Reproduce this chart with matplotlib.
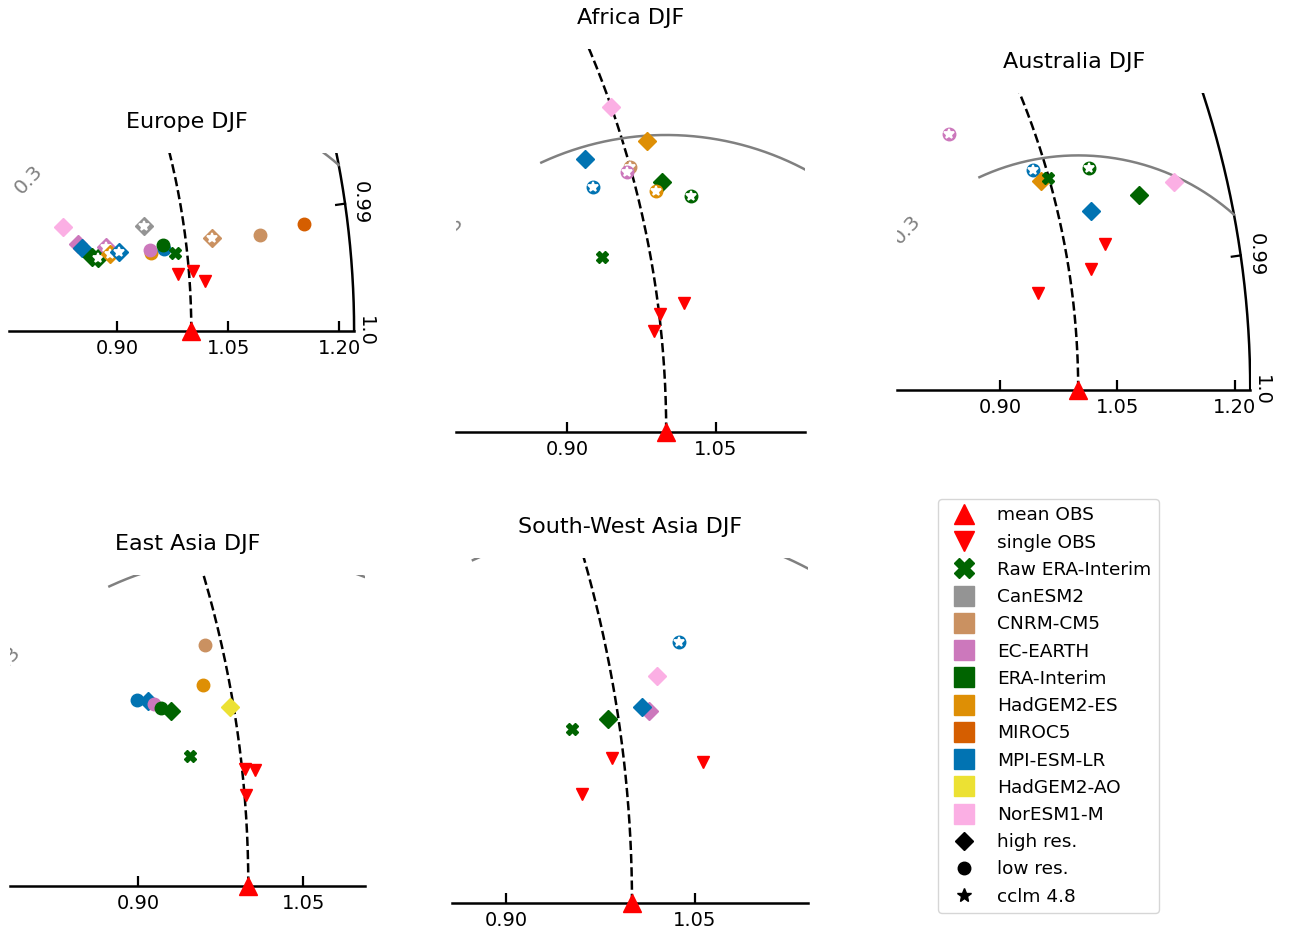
import numpy as np
import matplotlib.pyplot as plt
from matplotlib.lines import Line2D

# models and colours (legend order)
models = ['CanESM2', 'CNRM-CM5', 'EC-EARTH', 'ERA-Interim', 'HadGEM2-ES',
          'MIROC5', 'MPI-ESM-LR', 'HadGEM2-AO', 'NorESM1-M']
model_colors = ['#949494', '#ca9161', '#cc78bc', '#006400', '#de8f05',
                '#d55e00', '#0173b2', '#ece133', '#fbafe4']
color_of = dict(zip(models, model_colors))

# ---- Europe DJF (normalised std, correlation) ----
eur_model = ['NorESM1-M', 'EC-EARTH', 'MPI-ESM-LR', 'ERA-Interim', 'ERA-Interim',
             'EC-EARTH', 'HadGEM2-ES', 'MPI-ESM-LR', 'CanESM2', 'HadGEM2-ES',
             'EC-EARTH', 'MPI-ESM-LR', 'ERA-Interim', 'CNRM-CM5', 'CNRM-CM5', 'MIROC5']
eur_marker = ['D', 'D', 'D', 'D', 'D', 'D', 'D', 'D', 'D', 'o', 'o', 'o', 'o', 'D', 'o', 'o']
eur_cclm = [0, 0, 0, 0, 1, 1, 1, 1, 1, 0, 0, 0, 0, 1, 0, 0]
eur_std = [0.839, 0.855, 0.860, 0.871, 0.880, 0.892, 0.896, 0.908, 0.947, 0.951,
           0.951, 0.969, 0.969, 1.035, 1.101, 1.161]
eur_corr = [0.9858, 0.9905, 0.9915, 0.9933, 0.9937, 0.9919, 0.9932, 0.9930, 0.9887, 0.9938,
            0.9934, 0.9935, 0.9928, 0.9926, 0.9930, 0.9922]
eur_obs_std = [0.9847, 1.0060, 1.0207]
eur_obs_corr = [0.9969, 0.9967, 0.9978]
eur_raw = (0.9836, 0.9943)

# ---- Africa DJF ----
afr_model = ['NorESM1-M', 'HadGEM2-ES', 'MPI-ESM-LR', 'CNRM-CM5', 'EC-EARTH',
             'MPI-ESM-LR', 'ERA-Interim', 'HadGEM2-ES', 'ERA-Interim']
afr_marker = ['D', 'D', 'D', 'o', 'o', 'o', 'D', 'o', 'o']
afr_cclm = [0, 0, 0, 1, 1, 1, 0, 1, 1]
afr_std = [0.9995, 1.0235, 0.9583, 1.0000, 0.9960, 0.9587, 1.0277, 1.0193, 1.0522]
afr_corr = [0.9444, 0.9578, 0.9578, 0.9634, 0.9646, 0.9662, 0.9693, 0.9710, 0.9740]
afr_obs_std = [1.0266, 1.0008, 0.9930]
afr_obs_corr = [0.9919, 0.9929, 0.9947]
afr_raw = (0.9513, 0.9827)

# ---- Australia DJF ----
aus_model = ['EC-EARTH', 'MPI-ESM-LR', 'HadGEM2-ES', 'ERA-Interim', 'NorESM1-M',
             'ERA-Interim', 'MPI-ESM-LR']
aus_marker = ['o', 'o', 'D', 'o', 'D', 'D', 'D']
aus_cclm = [1, 1, 0, 1, 0, 0, 0]
aus_std = [0.8967, 0.9837, 0.9888, 1.0531, 1.1541, 1.1066, 1.0419]
aus_corr = [0.9310, 0.9582, 0.9628, 0.9631, 0.9730, 0.9742, 0.9755]
aus_obs_std = [1.0510, 1.0280, 0.9570]
aus_obs_corr = [0.9841, 0.9887, 0.9916]
aus_raw = (0.9992, 0.9626)

# ---- East Asia DJF ----
eas_model = ['CNRM-CM5', 'HadGEM2-ES', 'HadGEM2-AO', 'MPI-ESM-LR', 'MPI-ESM-LR',
             'EC-EARTH', 'ERA-Interim', 'ERA-Interim']
eas_marker = ['o', 'o', 'D', 'o', 'D', 'o', 'o', 'D']
eas_cclm = [0, 0, 0, 0, 0, 0, 0, 0]
eas_std = [0.9851, 0.9764, 0.9968, 0.9142, 0.9239, 0.9294, 0.9347, 0.9430]
eas_corr = [0.9751, 0.9823, 0.9866, 0.9828, 0.9833, 0.9840, 0.9849, 0.9857]
eas_obs_std = [1.0026, 1.0116, 1.0013]
eas_obs_corr = [0.9944, 0.9946, 0.9966]
eas_raw = (0.9543, 0.9923)

# ---- South-West Asia DJF ----
swa_model = ['MPI-ESM-LR', 'NorESM1-M', 'EC-EARTH', 'MPI-ESM-LR', 'ERA-Interim']
swa_marker = ['o', 'D', 'D', 'D', 'D']
swa_cclm = [1, 0, 0, 0, 0]
swa_std = [1.0580, 1.0353, 1.0251, 1.0196, 0.9915]
swa_corr = [0.9806, 0.9848, 0.9889, 0.9883, 0.9891]
swa_obs_std = [0.9907, 1.0620, 0.9645]
swa_obs_corr = [0.9932, 0.9944, 0.9960]
swa_raw = (0.9620, 0.9897)

rmax = 1.22     # outer std arc
rms_level = 0.3

W, H = 1291, 935
fig = plt.figure(figsize=(W / 100, H / 100), dpi=100)


def to_xy(std, corr):
    std = np.asarray(std, dtype=float)
    th = np.arccos(np.asarray(corr, dtype=float))
    return std * np.cos(th), std * np.sin(th)


def taylor_panel(title, data, xlim, ytop, px09, axis_y, scale):
    model, marker, cclm, std, corr, obs_std, obs_corr, raw = data
    x0, x1 = xlim
    left = px09 + (x0 - 0.9) * scale
    ax = fig.add_axes([left / W, 1 - axis_y / H, (x1 - x0) * scale / W, ytop * scale / H])
    for sp in ax.spines.values():
        sp.set_visible(False)
    ax.set_yticks([])
    ax.set_xticks([0.9, 1.05, 1.2])
    ax.set_xticklabels(['0.90', '1.05', '1.20'])
    ax.tick_params(axis='x', direction='in', length=7, width=1.6, labelsize=14, pad=6)
    ax.set_title(title, fontsize=16, pad=18)
    ax.plot([x0, min(x1, rmax)], [0, 0], color='k', lw=1.8, clip_on=False, zorder=2)

    th = np.linspace(0, np.pi / 2, 500)
    ax.plot(np.cos(th), np.sin(th), 'k--', lw=1.8, zorder=1)
    ax.plot(rmax * np.cos(th), rmax * np.sin(th), 'k-', lw=1.8, zorder=1)

    # centred rms contour with gap for its label
    phi = np.linspace(0, np.pi, 800)
    cx = 1 + rms_level * np.cos(phi)
    cy = rms_level * np.sin(phi)
    gap = (phi > np.radians(115)) & (phi < np.radians(159))
    keep = (np.hypot(cx, cy) <= rmax) & ~gap
    ax.plot(np.where(keep, cx, np.nan), np.where(keep, cy, np.nan), color='0.5', lw=1.8, zorder=1)
    pl = np.radians(137)
    ax.text(1 + rms_level * np.cos(pl), rms_level * np.sin(pl), '0.3', color='0.5',
            fontsize=14.5, rotation=47, ha='center', va='center', clip_on=True)

    # correlation tick and labels on the outer arc, only where the arc is in view
    if x1 >= rmax - 0.005:
        t99 = np.arccos(0.99)
        tl = 9 / scale
        ax.plot([rmax * np.cos(t99), (rmax - tl) * np.cos(t99)],
                [rmax * np.sin(t99), (rmax - tl) * np.sin(t99)], 'k-', lw=1.6, clip_on=False)
        for c, lab, off in ((0.99, '0.99', 6), (1.0, '1.0', 2)):
            t = np.arccos(c)
            r = rmax + off / scale
            ax.text(r * np.cos(t), r * np.sin(t), lab, rotation=-90, fontsize=14,
                    ha='left', va='center', clip_on=False)

    # models
    for m, mk, cc, s, c in zip(model, marker, cclm, std, corr):
        x, y = to_xy(s, c)
        ax.plot(x, y, marker=mk, ms=9, color=color_of[m], ls='none', clip_on=False, zorder=3)
        if cc:
            ax.plot(x, y, marker='*', ms=7, color='white', mec='white', mew=1.3,
                    ls='none', clip_on=False, zorder=3)
    x, y = to_xy(obs_std, obs_corr)
    ax.plot(x, y, 'v', color='red', ms=8, ls='none', zorder=4)
    x, y = to_xy(raw[0], raw[1])
    ax.plot(x, y, 'X', color='#006400', ms=9, ls='none', zorder=4)
    ax.plot(1.0, 0.0, '^', color='red', ms=13.5, clip_on=False, zorder=5)

    # limits last, so the ticks do not widen the view
    ax.set_xlim(x0, x1)
    ax.set_ylim(0, ytop)
    return ax


taylor_panel('Europe DJF',
             (eur_model, eur_marker, eur_cclm, eur_std, eur_corr, eur_obs_std, eur_obs_corr, eur_raw),
             (0.754, 1.233), 0.240, 117.3, 331, 740)
taylor_panel('Africa DJF',
             (afr_model, afr_marker, afr_cclm, afr_std, afr_corr, afr_obs_std, afr_obs_corr, afr_raw),
             (0.7875, 1.1403), 0.3866, 567.3, 431.7, 989)
taylor_panel('Australia DJF',
             (aus_model, aus_marker, aus_cclm, aus_std, aus_corr, aus_obs_std, aus_obs_corr, aus_raw),
             (0.768, 1.2205), 0.3794, 1000, 390, 782)
taylor_panel('East Asia DJF',
             (eas_model, eas_marker, eas_cclm, eas_std, eas_corr, eas_obs_std, eas_obs_corr, eas_raw),
             (0.783, 1.106), 0.2825, 138.3, 885.7, 1100)
taylor_panel('South-West Asia DJF',
             (swa_model, swa_marker, swa_cclm, swa_std, swa_corr, swa_obs_std, swa_obs_corr, swa_raw),
             (0.857, 1.1397), 0.274, 506, 903, 1260)

# legend
handles = [Line2D([], [], marker='^', color='red', ls='none', ms=15, label='mean OBS'),
           Line2D([], [], marker='v', color='red', ls='none', ms=15, label='single OBS'),
           Line2D([], [], marker='X', color='#006400', ls='none', ms=15, label='Raw ERA-Interim')]
for m, col in zip(models, model_colors):
    handles.append(Line2D([], [], marker='s', color=col, ls='none', ms=15, label=m))
handles += [Line2D([], [], marker='D', color='k', ls='none', ms=9, label='high res.'),
            Line2D([], [], marker='o', color='k', ls='none', ms=9, label='low res.'),
            Line2D([], [], marker='*', color='k', ls='none', ms=10, label='cclm 4.8')]
fig.legend(handles=handles, loc='upper left', bbox_to_anchor=(938 / W, 1 - 499 / H),
           borderaxespad=0, fontsize=13.3)

fig.savefig('out.png', dpi=100)
